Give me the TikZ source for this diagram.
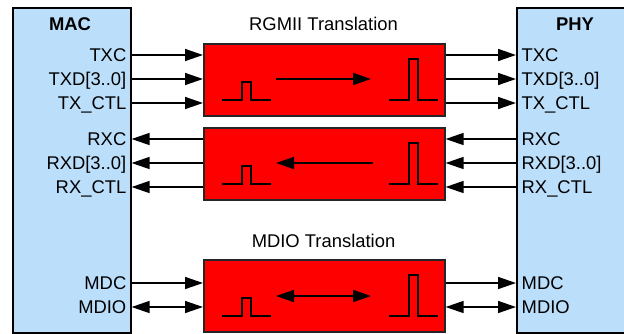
\documentclass[tikz,border=0pt]{standalone}
\usepackage{fontspec}
\setmainfont{Liberation Sans}
\usetikzlibrary{arrows.meta}
\definecolor{boxblue}{RGB}{187,222,251}
\definecolor{boxred}{RGB}{255,0,0}
\tikzset{
  block/.style={draw=black, line width=1.6pt, fill=boxblue, inner sep=0pt},
  redbox/.style={draw=black!85, line width=1.6pt, fill=boxred, inner sep=0pt, minimum width=241pt, minimum height=72pt},
  lbl/.style={inner sep=0pt, font=\fontsize{18.4}{22}\selectfont},
  ttl/.style={inner sep=0pt, font=\fontsize{18.4}{22}\selectfont\bfseries},
  sig/.style={line width=1.5pt, -{Triangle[length=18pt,width=12pt]}},
  sigb/.style={line width=1.5pt, {Triangle[length=18pt,width=12pt]}-{Triangle[length=18pt,width=12pt]}},
  wave/.style={line width=1.5pt, line join=miter}
}
\newcommand{\drawpulses}[1]{%
  \draw[wave] (222,#1) -- (242,#1) -- (242,#1-18) -- (251,#1-18) -- (251,#1) -- (271,#1);
  \draw[wave] (389,#1) -- (409,#1) -- (409,#1-41) -- (418,#1-41) -- (418,#1) -- (438,#1);
}
\begin{document}
\begin{tikzpicture}[x=1pt,y=-1pt]
\useasboundingbox (0,0) rectangle (624,333);
% side blocks
\node[block, anchor=north west, minimum width=118pt, minimum height=325pt] (mac) at (12,7) {};
\node[block, anchor=north west, minimum width=120pt, minimum height=325pt] (phy) at (516,7) {};
\node[ttl, anchor=base] (mactitle) at (70,30.7) {MAC};
\node[ttl, anchor=base] (phytitle) at (575,30.7) {PHY};
% red boxes
\node[redbox, anchor=north west] (r1) at (203,43) {};
\node[redbox, anchor=north west] (r2) at (203,127) {};
\node[redbox, anchor=north west] (r3) at (203,259) {};
\node[lbl, anchor=base] (t1) at (323.5,30) {RGMII Translation};
\node[lbl, anchor=base] (t2) at (323.5,247) {MDIO Translation};
% left labels
\foreach \n/\t/\y in {ltxc/TXC/55, ltxd/TXD[3..0]/79, ltxctl/TX\_CTL/103, lrxc/RXC/139, lrxd/RXD[3..0]/163, lrxctl/RX\_CTL/187, lmdc/MDC/283, lmdio/MDIO/307}{
  \node[lbl, anchor=base east] (\n) at (126.5,\y+6.5) {\t};
  \coordinate (\n y) at (0,\y);
}
\foreach \n/\t/\y in {rtxc/TXC/55, rtxd/TXD[3..0]/79, rtxctl/TX\_CTL/103, rrxc/RXC/139, rrxd/RXD[3..0]/163, rrxctl/RX\_CTL/187, rmdc/MDC/283, rmdio/MDIO/307}{
  \node[lbl, anchor=base west] (\n) at (521.5,\y+6.5) {\t};
  \coordinate (\n y) at (0,\y);
}
% TX connectors
\foreach \n in {txc,txd,txctl}{
  \draw[sig] (mac.east |- l\n y) -- (r1.west |- l\n y);
  \draw[sig] (r1.east |- r\n y) -- (phy.west |- r\n y);
}
% RX connectors
\foreach \n in {rxc,rxd,rxctl}{
  \draw[sig] (r2.west |- l\n y) -- (mac.east |- l\n y);
  \draw[sig] (phy.west |- r\n y) -- (r2.east |- r\n y);
}
% MDIO connectors
\draw[sig] (mac.east |- lmdcy) -- (r3.west |- lmdcy);
\draw[sig] (r3.east |- rmdcy) -- (phy.west |- rmdcy);
\draw[sigb] (mac.east |- lmdioy) -- (r3.west |- lmdioy);
\draw[sigb] (r3.east |- rmdioy) -- (phy.west |- rmdioy);
% pulses
\drawpulses{100}
\drawpulses{184}
\drawpulses{316}
% inner arrows
\coordinate (a1s) at (276,79);  \coordinate (a1e) at (371,79);
\coordinate (a2s) at (373,163); \coordinate (a2e) at (276,163);
\coordinate (a3s) at (276,296); \coordinate (a3e) at (371,296);
\draw[sig] (a1s) -- (a1e);
\draw[sig] (a2s) -- (a2e);
\draw[sigb] (a3s) -- (a3e);
\end{tikzpicture}
\end{document}
